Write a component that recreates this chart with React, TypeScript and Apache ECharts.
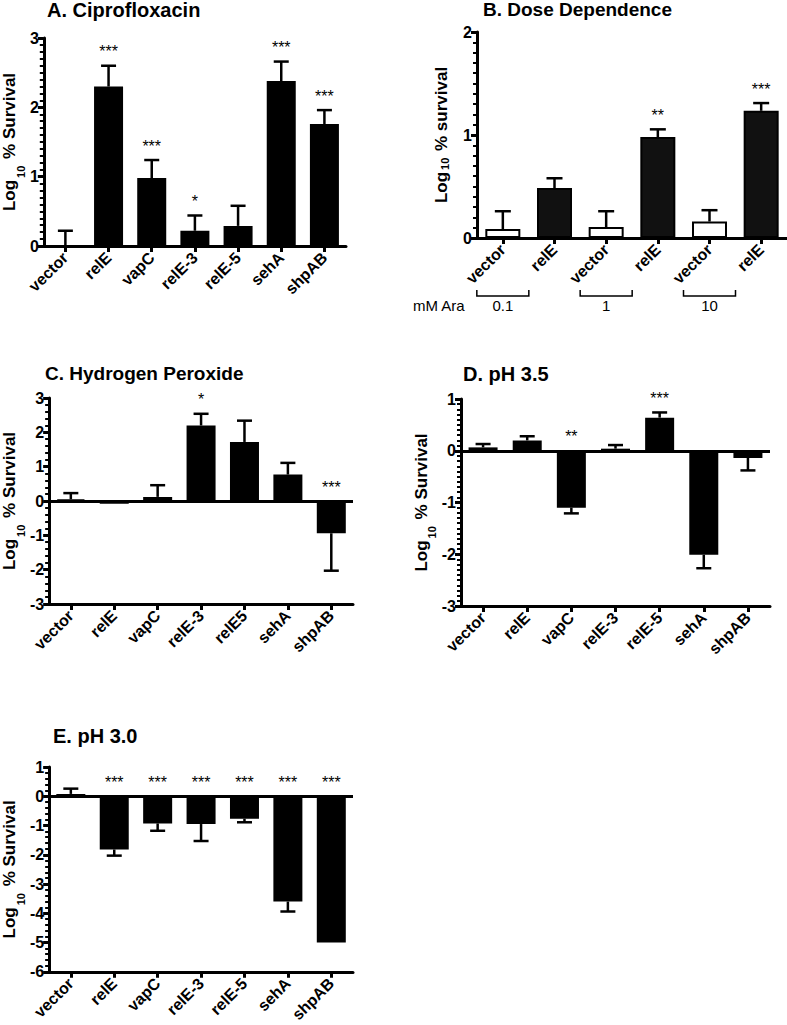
import React, { useEffect, useRef } from "react";
import * as echarts from "echarts";

// ---------- DATA ----------
const catsA = ["vector", "relE", "vapC", "relE-3", "relE-5", "sehA", "shpAB"];
const meanA = [0, 2.3, 0.98, 0.22, 0.29, 2.38, 1.76];
const errA = [0.22, 2.6, 1.24, 0.44, 0.58, 2.66, 1.96];
const starsA = ["", "***", "***", "*", "", "***", "***"];

const catsB = ["vector", "relE", "vector", "relE", "vector", "relE"];
const meanB = [0.087, 0.485, 0.107, 0.98, 0.16, 1.235];
const errB = [0.26, 0.58, 0.26, 1.055, 0.27, 1.31];
const starsB = ["", "", "", "**", "", "***"];
const doseB = ["0.1", "1", "10"];

const catsC = ["vector", "relE", "vapC", "relE-3", "relE5", "sehA", "shpAB"];
const meanC = [0.05, -0.08, 0.12, 2.2, 1.72, 0.77, -0.94];
const errC: (number | null)[] = [0.23, null, 0.46, 2.54, 2.34, 1.11, -2.03];
const starsC = ["", "", "", "*", "", "", "***"];

const catsD = ["vector", "relE", "vapC", "relE-3", "relE-5", "sehA", "shpAB"];
const meanD = [0.065, 0.2, -1.1, 0.04, 0.64, -2.01, -0.14];
const errD = [0.13, 0.28, -1.21, 0.11, 0.74, -2.27, -0.38];
const starsD = ["", "", "**", "", "***", "", ""];

const catsE = ["vector", "relE", "vapC", "relE-3", "relE-5", "sehA", "shpAB"];
const meanE = [0.08, -1.82, -0.93, -0.95, -0.77, -3.6, -5.0];
const errE: (number | null)[] = [0.26, -2.03, -1.18, -1.53, -0.89, -3.94, null];
const starsE = ["", "***", "***", "***", "***", "***", "***"];

// ---------- STYLE ----------
const FONT = "'Liberation Sans', Arial, Helvetica, sans-serif";
const BLACK = "#000";

const grids = [
  { left: 38, top: 38, width: 308, height: 208 }, // A
  { left: 477, top: 32, width: 310, height: 206 }, // B
  { left: 45, top: 398, width: 308, height: 206 }, // C
  { left: 461, top: 399, width: 309, height: 207 }, // D
  { left: 45, top: 767, width: 308, height: 205 }, // E
];

function xAxisFor(gridIndex: number, cats: string[]) {
  return {
    type: "category",
    gridIndex,
    data: cats,
    boundaryGap: true,
    axisLine: { show: true, onZero: false, lineStyle: { color: BLACK, width: 3 } },
    axisTick: { show: true, alignWithLabel: true, length: 6, lineStyle: { color: BLACK, width: 3 } },
    axisLabel: {
      rotate: 45,
      margin: 9,
      interval: 0,
      color: BLACK,
      fontFamily: FONT,
      fontWeight: "bold",
      fontSize: 16,
    },
    splitLine: { show: false },
  };
}

function yAxisFor(
  gridIndex: number,
  min: number,
  max: number,
  minorSplit: number,
  nameText: string,
  nameGap: number,
  subPad: number
) {
  return {
    type: "value",
    gridIndex,
    min,
    max,
    interval: 1,
    axisLine: { show: true, lineStyle: { color: BLACK, width: 3 } },
    axisTick: { show: true, length: 6, lineStyle: { color: BLACK, width: 3 } },
    minorTick: { show: true, splitNumber: minorSplit, length: 4, lineStyle: { color: BLACK, width: 2 } },
    splitLine: { show: false },
    minorSplitLine: { show: false },
    axisLabel: {
      color: BLACK,
      fontFamily: FONT,
      fontWeight: "bold",
      fontSize: 16,
      margin: 5,
    },
    name: "{a|Log}{b|10}{a| " + nameText + "}",
    nameLocation: "middle",
    nameRotate: 90,
    nameGap,
    nameTextStyle: {
      color: BLACK,
      fontFamily: FONT,
      fontWeight: "bold",
      fontSize: 17,
      rich: {
        a: { fontSize: 17, fontWeight: "bold", fontFamily: FONT, color: BLACK, lineHeight: 18, verticalAlign: "top" },
        b: {
          fontSize: 11,
          fontWeight: "bold",
          fontFamily: FONT,
          color: BLACK,
          lineHeight: 11,
          verticalAlign: "top",
          padding: [subPad, 2, 0, 2],
        },
      },
    },
  };
}

function errRender(capHalf: number) {
  return (params: any, api: any) => {
    const i = api.value(0);
    const p0 = api.coord([i, api.value(1)]);
    const p1 = api.coord([i, api.value(2)]);
    const st = { stroke: BLACK, lineWidth: 2.5 };
    return {
      type: "group",
      children: [
        { type: "line", shape: { x1: p0[0], y1: p0[1], x2: p1[0], y2: p1[1] }, style: st },
        { type: "line", shape: { x1: p1[0] - capHalf, y1: p1[1], x2: p1[0] + capHalf, y2: p1[1] }, style: st },
      ],
    };
  };
}

function panelSeries(
  idx: number,
  means: number[],
  errs: (number | null)[],
  stars: string[],
  barWidth: number,
  capHalf: number,
  zeroLine: boolean,
  fills?: string[]
) {
  const barData = means.map((v, i) => ({
    value: v,
    itemStyle: { color: fills ? fills[i] : BLACK, borderColor: BLACK, borderWidth: 2 },
  }));
  const errData: any[] = [];
  errs.forEach((e, i) => {
    if (e !== null) errData.push([i, means[i], e]);
  });
  const starData: any[] = [];
  stars.forEach((s, i) => {
    if (s) {
      const e = errs[i];
      const anchor = means[i] >= 0 ? (e !== null ? e : means[i]) : 0;
      starData.push([i, anchor, s]);
    }
  });
  const bar: any = {
    type: "bar",
    xAxisIndex: idx,
    yAxisIndex: idx,
    data: barData,
    barWidth,
    z: 2,
  };
  if (zeroLine) {
    bar.markLine = {
      silent: true,
      symbol: ["none", "none"],
      label: { show: false },
      lineStyle: { color: BLACK, width: 3, type: "solid" },
      data: [{ yAxis: 0 }],
      z: 5,
    };
  }
  return [
    bar,
    {
      type: "custom",
      xAxisIndex: idx,
      yAxisIndex: idx,
      data: errData,
      encode: { x: 0, y: [1, 2] },
      renderItem: errRender(capHalf),
      z: 3,
    },
    {
      type: "scatter",
      xAxisIndex: idx,
      yAxisIndex: idx,
      data: starData,
      symbolSize: 2,
      itemStyle: { color: "rgba(0,0,0,0)" },
      labelLayout: { hideOverlap: false },
      label: {
        show: true,
        position: "top",
        distance: 5,
        formatter: (p: any) => p.data[2],
        color: "#000",
        opacity: 1,
        fontFamily: FONT,
        fontSize: 16,
      },
      emphasis: { disabled: true },
      z: 4,
    },
  ];
}

const titleStyle = { color: BLACK, fontFamily: FONT, fontWeight: "bold", fontSize: 20 };

export default function App() {
  const ref = useRef<HTMLDivElement>(null);
  useEffect(() => {
    if (!ref.current) return;
    const chart = echarts.init(ref.current, undefined, { renderer: "svg" });

    const gB = grids[1];
    const cxB = (i: number) => gB.left + ((i + 0.5) * gB.width) / catsB.length;
    const bracketY0 = 290;
    const bracketY1 = 296;
    const graphics: any[] = [
      {
        type: "text",
        x: 413,
        y: 305,
        style: { text: "mM Ara", fontFamily: FONT, fontSize: 15, fill: BLACK, textVerticalAlign: "middle" },
      },
    ];
    doseB.forEach((d, k) => {
      const c = cxB(2 * k);
      graphics.push({
        type: "polyline",
        shape: {
          points: [
            [c - 26, bracketY0],
            [c - 26, bracketY1],
            [c + 26, bracketY1],
            [c + 26, bracketY0],
          ],
        },
        style: { stroke: BLACK, lineWidth: 1.5, fill: null },
      });
      graphics.push({
        type: "text",
        x: c,
        y: 305,
        style: {
          text: d,
          fontFamily: FONT,
          fontSize: 15,
          fill: BLACK,
          textAlign: "center",
          textVerticalAlign: "middle",
        },
      });
    });

    const fillsB = catsB.map((c) => (c === "vector" ? "#fff" : "#111"));

    chart.setOption({
      animation: false,
      backgroundColor: "#fff",
      title: [
        { text: "A. Ciprofloxacin", left: 47, top: 0, padding: 0, textStyle: titleStyle },
        { text: "B. Dose Dependence", left: 483, top: 0, padding: 0, textStyle: { ...titleStyle, fontSize: 19 } },
        { text: "C. Hydrogen Peroxide", left: 45, top: 364, padding: 0, textStyle: { ...titleStyle, fontSize: 19 } },
        { text: "D. pH 3.5", left: 463, top: 364, padding: 0, textStyle: titleStyle },
        { text: "E. pH 3.0", left: 53, top: 726, padding: 0, textStyle: titleStyle },
      ],
      grid: grids,
      xAxis: [
        xAxisFor(0, catsA),
        xAxisFor(1, catsB),
        xAxisFor(2, catsC),
        xAxisFor(3, catsD),
        xAxisFor(4, catsE),
      ],
      yAxis: [
        yAxisFor(0, 0, 3, 10, "% Survival", 13, 14),
        yAxisFor(1, 0, 2, 10, "% survival", 26, 6),
        yAxisFor(2, -3, 3, 5, "% Survival", 22, 14),
        yAxisFor(3, -3, 1, 10, "% Survival", 21, 14),
        yAxisFor(4, -6, 1, 5, "% Survival", 23, 14),
      ],
      series: [
        ...panelSeries(0, meanA, errA, starsA, 29, 7.5, false),
        ...panelSeries(1, meanB, errB, starsB, 35, 8, false, fillsB),
        ...panelSeries(2, meanC, errC, starsC, 29, 7.5, true),
        ...panelSeries(3, meanD, errD, starsD, 29, 7.5, true),
        ...panelSeries(4, meanE, errE, starsE, 29, 7.5, true),
      ],
      graphic: graphics,
    });
    return () => chart.dispose();
  }, []);
  return (
    <div
      ref={ref}
      style={{ position: "absolute", left: 0, top: 0, width: 787, height: 1025, background: "#fff" }}
    />
  );
}
